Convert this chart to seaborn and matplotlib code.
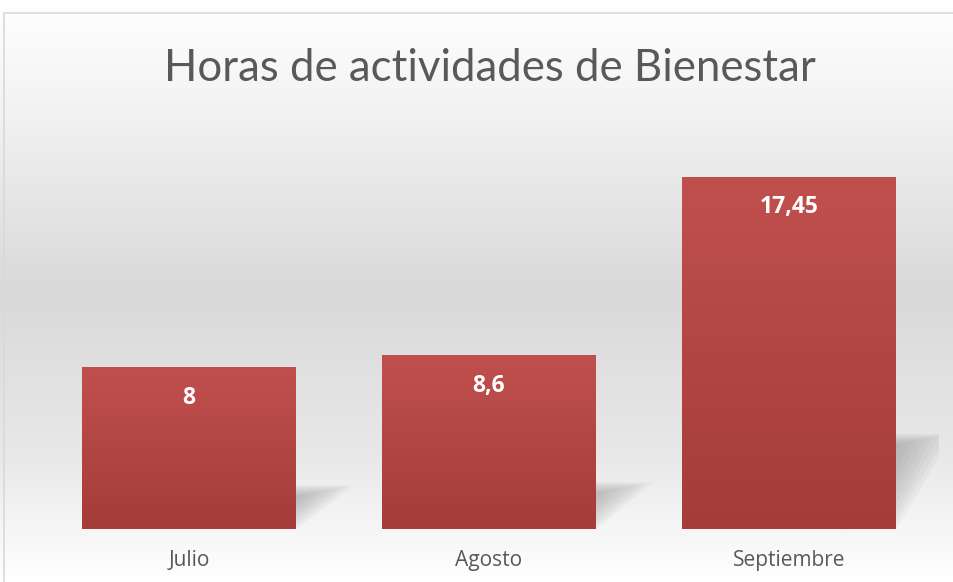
import numpy as np
import matplotlib
matplotlib.use('Agg')
import matplotlib.pyplot as plt
from matplotlib.colors import LinearSegmentedColormap
from matplotlib.patches import Polygon, Rectangle
import seaborn as sns

# Datos del gráfico
meses = ['Julio', 'Agosto', 'Septiembre']
horas = [8, 8.6, 17.45]
etiquetas = ['8', '8,6', '17,45']
titulo = 'Horas de actividades de Bienestar'

sns.set_theme(style='white')
plt.rcParams['font.family'] = ['Open Sans', 'DejaVu Sans']

fig = plt.figure(figsize=(9.54, 5.82), dpi=100)

# Fondo degradado del área del gráfico (blanco - gris - blanco)
fondo = fig.add_axes([0, 0, 1, 1], zorder=0)
fondo.axis('off')
cmap_fondo = LinearSegmentedColormap.from_list('fondo', [
    (0.0, '#ffffff'), (0.18, '#f3f3f3'), (0.5, '#d9d9d9'),
    (0.78, '#e8e8e8'), (1.0, '#ffffff')])
grad = np.linspace(0, 1, 256).reshape(-1, 1)
fondo.imshow(grad, cmap=cmap_fondo, aspect='auto', extent=[0, 1, 0, 1],
             origin='upper')
fondo.set_xlim(0, 1)
fondo.set_ylim(0, 1)
# Borde del gráfico
fondo.add_patch(Rectangle((4 / 954, -0.01), 1.0, 1 - 13 / 582 + 0.01,
                          fill=False, edgecolor='#d9d9d9', linewidth=1.2))

ax = fig.add_axes([39 / 954, 53 / 582, 900 / 954, 404 / 582], zorder=1)
ax.patch.set_alpha(0)

sns.barplot(x=meses, y=horas, color='#b54845', width=0.713, ax=ax,
            saturation=1, linewidth=0, zorder=3)

ax.set_xlim(-0.5, 2.5)
ax.set_ylim(0, 20)

# Degradado rojo en las barras y sombra en perspectiva
cmap_barra = LinearSegmentedColormap.from_list('barra', ['#c0504d', '#a43c39'])
for barra, etiqueta in zip(ax.patches, etiquetas):
    x0 = barra.get_x()
    w = barra.get_width()
    h = barra.get_height()
    img = ax.imshow(grad, cmap=cmap_barra, aspect='auto',
                    extent=[x0, x0 + w, 0, h], origin='upper', zorder=4)
    img.set_clip_path(barra)

    # sombra difusa
    dx = 0.19
    dy = 0.27 * h
    for i in range(10):
        s = i * 0.012
        sombra = Polygon([(x0 + s, 0 + s * 4), (x0 + w - s, 0 + s * 4),
                          (x0 + w + dx - s * 2, dy - s * 6),
                          (x0 + dx + s, dy - s * 6)],
                         closed=True, facecolor='#8c8c8c', edgecolor='none',
                         alpha=0.08, zorder=2)
        ax.add_patch(sombra)

    ax.annotate(etiqueta, (x0 + w / 2, h), xytext=(0, -22),
                textcoords='offset points', ha='center', va='center',
                color='white', fontsize=16.5, fontweight='bold', zorder=5)

ax.set_xlabel('')
ax.set_ylabel('')
ax.set_yticks([])
ax.tick_params(axis='x', length=0, pad=15, labelsize=15, labelcolor='#595959')
for lado in ax.spines.values():
    lado.set_visible(False)

fig.text(0.513, 0.882, titulo, ha='center', va='center', fontsize=31.5,
         color='#595959', family=['Lato', 'DejaVu Sans'])

fig.savefig('out.png', dpi=100)
